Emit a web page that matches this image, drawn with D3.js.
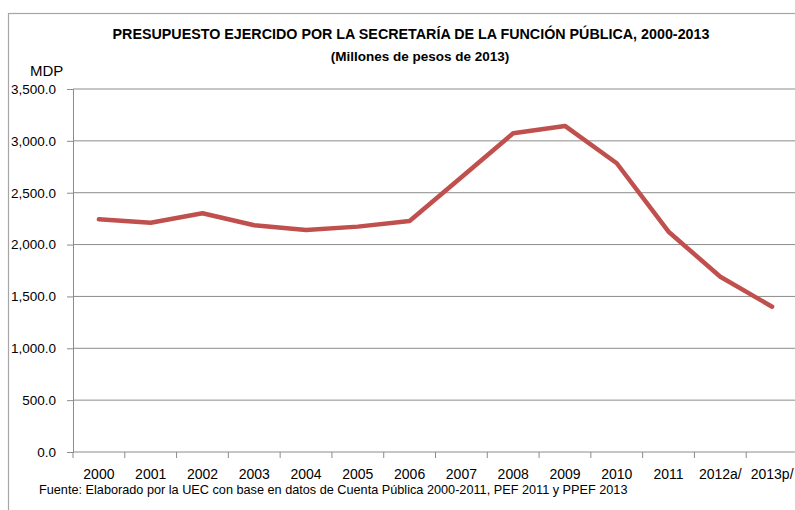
<!DOCTYPE html>
<html>
<head>
<meta charset="utf-8">
<script src="https://cdn.jsdelivr.net/npm/d3@7"></script>
<style>
  body { margin: 0; background: #fff; }
  svg { display: block; font-family: "Liberation Sans", Arial, sans-serif; }
</style>
</head>
<body>
<div id="chart"></div>
<script>
// Data
var years = ["2000", "2001", "2002", "2003", "2004", "2005", "2006",
             "2007", "2008", "2009", "2010", "2011", "2012a/", "2013p/"];
var budget = [2244, 2211, 2302, 2186, 2141, 2173, 2228,
              2650, 3073, 3144, 2784, 2124, 1690, 1401];
var yTicks = [0, 500, 1000, 1500, 2000, 2500, 3000, 3500];

var W = 795, H = 510;
var margin = {top: 89, left: 73};
var plotRight = 798, plotBottom = 452;

var svg = d3.select("#chart").append("svg")
    .attr("width", W)
    .attr("height", H);

// outer chart frame
svg.append("rect")
    .attr("x", 8.5).attr("y", 13.5)
    .attr("width", W + 20).attr("height", H + 20)
    .attr("fill", "none")
    .attr("stroke", "#a6a6a6")
    .attr("stroke-width", 1.2);

var x = d3.scaleBand()
    .domain(years)
    .range([margin.left, plotRight]);

var y = d3.scaleLinear()
    .domain([0, 3500])
    .range([plotBottom, margin.top]);

// gridlines
svg.append("g")
  .selectAll("line")
  .data(yTicks)
  .enter().append("line")
    .attr("x1", margin.left).attr("x2", plotRight)
    .attr("y1", function(d) { return y(d); })
    .attr("y2", function(d) { return y(d); })
    .attr("stroke", "#8c8c8c")
    .attr("stroke-width", 1);

// y axis
var yAxis = svg.append("g")
    .attr("transform", "translate(" + margin.left + ",0)")
    .call(d3.axisLeft(y).tickValues(yTicks).tickFormat(d3.format(",.1f"))
          .tickSize(6).tickPadding(11));
yAxis.select(".domain").attr("stroke", "#8c8c8c");
yAxis.selectAll(".tick line").attr("stroke", "#8c8c8c");
yAxis.selectAll("text")
    .attr("fill", "#000")
    .style("font-size", "13.5px")
    .style("font-family", "Liberation Sans, Arial, sans-serif");

// x axis
var xAxis = svg.append("g")
    .attr("transform", "translate(0," + plotBottom + ")")
    .call(d3.axisBottom(x).tickSize(0).tickPadding(17));
xAxis.select(".domain").remove();
xAxis.selectAll("text")
    .attr("fill", "#000")
    .style("font-size", "14px")
    .style("font-family", "Liberation Sans, Arial, sans-serif");

// category tick marks at band boundaries
svg.append("g")
  .selectAll("line")
  .data(years)
  .enter().append("line")
    .attr("x1", function(d) { return x(d); })
    .attr("x2", function(d) { return x(d); })
    .attr("y1", plotBottom).attr("y2", plotBottom + 6)
    .attr("stroke", "#8c8c8c");

// the line
var line = d3.line()
    .x(function(d, i) { return x(years[i]) + x.bandwidth() / 2; })
    .y(function(d) { return y(d); });

svg.append("path")
    .datum(budget)
    .attr("d", line)
    .attr("fill", "none")
    .attr("stroke", "#c0504d")
    .attr("stroke-width", 4.5)
    .attr("stroke-linejoin", "round")
    .attr("stroke-linecap", "round");

// titles
svg.append("text")
    .attr("x", 411).attr("y", 39)
    .attr("text-anchor", "middle")
    .attr("font-weight", "bold")
    .style("font-size", "14.3px")
    .text("PRESUPUESTO EJERCIDO POR LA SECRETARÍA DE LA FUNCIÓN PÚBLICA, 2000-2013");

svg.append("text")
    .attr("x", 420).attr("y", 61)
    .attr("text-anchor", "middle")
    .attr("font-weight", "bold")
    .style("font-size", "13.5px")
    .text("(Millones de pesos de 2013)");

svg.append("text")
    .attr("x", 30).attr("y", 76)
    .style("font-size", "15px")
    .text("MDP");

svg.append("text")
    .attr("x", 39).attr("y", 494)
    .style("font-size", "12.7px")
    .text("Fuente: Elaborado por la UEC con base en datos de Cuenta Pública 2000-2011, PEF 2011 y PPEF 2013");
</script>
</body>
</html>
